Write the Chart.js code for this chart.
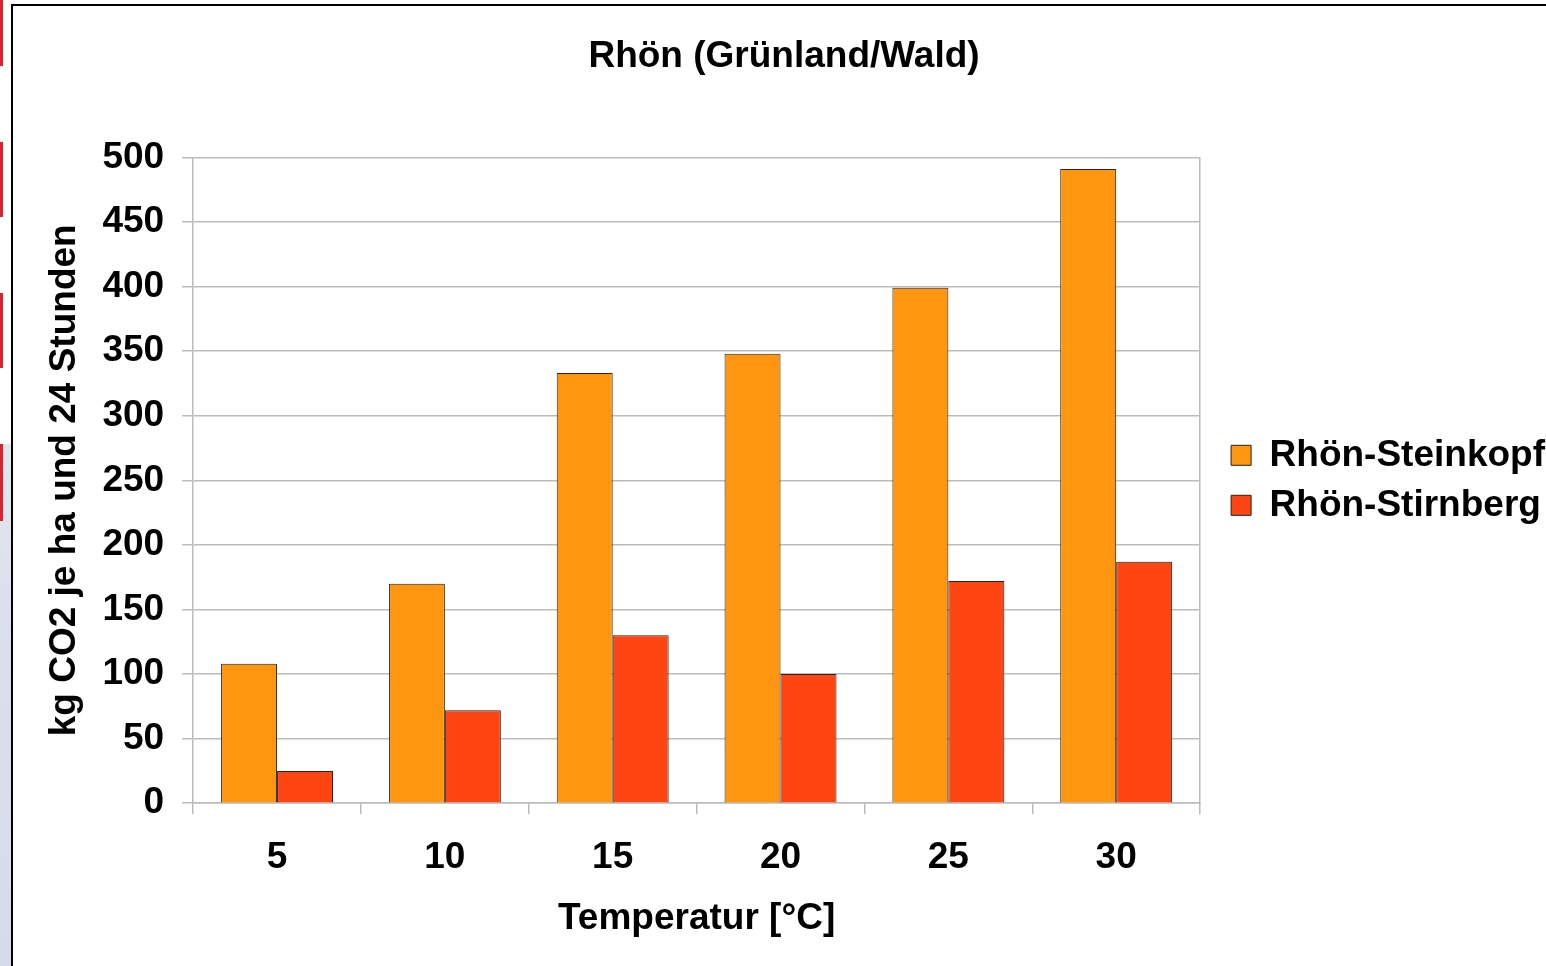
<!DOCTYPE html>
<html lang="de">
<head>
<meta charset="utf-8">
<title>Rhön (Grünland/Wald)</title>
<script src="https://cdn.jsdelivr.net/npm/chart.js@4"></script>
<style>
  html, body { margin: 0; padding: 0; width: 1546px; height: 966px; overflow: hidden; background: #fff; }
  .strip { position: absolute; left: 0; top: 0; width: 11px; height: 966px; background: #fff; }
  .strip .haze { position: absolute; left: 0; top: 444px; width: 11px; height: 522px;
    background: linear-gradient(180deg, #e3e6f0 0%, #dadfec 40%, #d6dbe9 100%); }
  .strip .mark { position: absolute; left: 0; width: 3px; background: #d9232f; }
  .frame { position: absolute; left: 11px; top: 4px; width: 1580px; height: 990px;
    border-left: 2px solid #000; border-top: 2px solid #000; background: #fff; }
  canvas { position: absolute; left: 0; top: 0; }
</style>
</head>
<body>
<div class="strip">
  <div class="haze"></div>
  <div class="mark" style="top:0;height:66px"></div>
  <div class="mark" style="top:142px;height:75px"></div>
  <div class="mark" style="top:293px;height:75px"></div>
  <div class="mark" style="top:444px;height:77px"></div>
</div>
<div class="frame"><canvas id="chart" width="1548" height="960"></canvas></div>
<script>
// Temperature steps (°C) and CO2 release per hectare in 24 hours
const temperatures = ['5', '10', '15', '20', '25', '30'];
const steinkopf = [108, 170, 333, 348, 399, 491];
const stirnberg = [25, 72, 130, 100, 172, 187];
const yTicks = [0, 50, 100, 150, 200, 250, 300, 350, 400, 450, 500];

const FONT = { family: '"Liberation Sans", Arial, Helvetica, sans-serif', size: 37, weight: 'bold' };
const GRID = '#bcbcbc';

new Chart(document.getElementById('chart'), {
  type: 'bar',
  data: {
    labels: temperatures,
    datasets: [
      { label: 'Rhön-Steinkopf', data: steinkopf, backgroundColor: '#ff9610',
        borderColor: '#2b2218', borderWidth: 1, yAxisID: 'y' },
      { label: 'Rhön-Stirnberg', data: stirnberg, backgroundColor: '#ff4612',
        borderColor: '#2b2218', borderWidth: 1, yAxisID: 'y' }
    ]
  },
  options: {
    responsive: false,
    devicePixelRatio: 1,
    animation: false,
    layout: { padding: { top: 0, right: 6, bottom: 0, left: 0 } },
    datasets: { bar: { categoryPercentage: 0.667, barPercentage: 1.0 } },
    plugins: {
      tooltip: { enabled: false },
      title: {
        display: true,
        text: 'Rhön (Grünland/Wald)',
        color: '#000',
        font: FONT,
        padding: { top: 29, bottom: 78 }
      },
      legend: {
        position: 'right',
        fullSize: false,
        maxWidth: 400,
        labels: {
          color: '#000',
          font: FONT,
          boxWidth: 20,
          boxHeight: 20,
          padding: 13
        }
      }
    },
    scales: {
      x: {
        offset: true,
        grid: { display: true, offset: true, drawOnChartArea: false, color: GRID, lineWidth: 1.5, tickLength: 11 },
        border: { color: GRID, width: 1.5 },
        ticks: { color: '#000', font: FONT, padding: 21, maxRotation: 0 },
        title: { display: true, text: 'Temperatur [°C]', color: '#000', font: FONT, padding: { top: -4, bottom: 25 } }
      },
      y: {
        min: 0,
        max: 500,
        afterBuildTicks: (axis) => { axis.ticks = yTicks.map(v => ({ value: v })); },
        grid: { color: GRID, lineWidth: 1.5, tickLength: 11 },
        border: { color: GRID, width: 1.5 },
        ticks: { color: '#000', font: FONT, padding: 18 },
        title: { display: true, text: 'kg CO2 je ha und 24 Stunden', color: '#000', font: FONT, padding: { top: 30, bottom: -3 } }
      },
      yRight: {
        position: 'right',
        min: 0,
        max: 500,
        grid: { drawOnChartArea: false, drawTicks: false },
        border: { color: GRID, width: 1.5 },
        ticks: { display: false },
        afterFit: (axis) => { axis.width = 18; }
      }
    }
  }
});
</script>
</body>
</html>
